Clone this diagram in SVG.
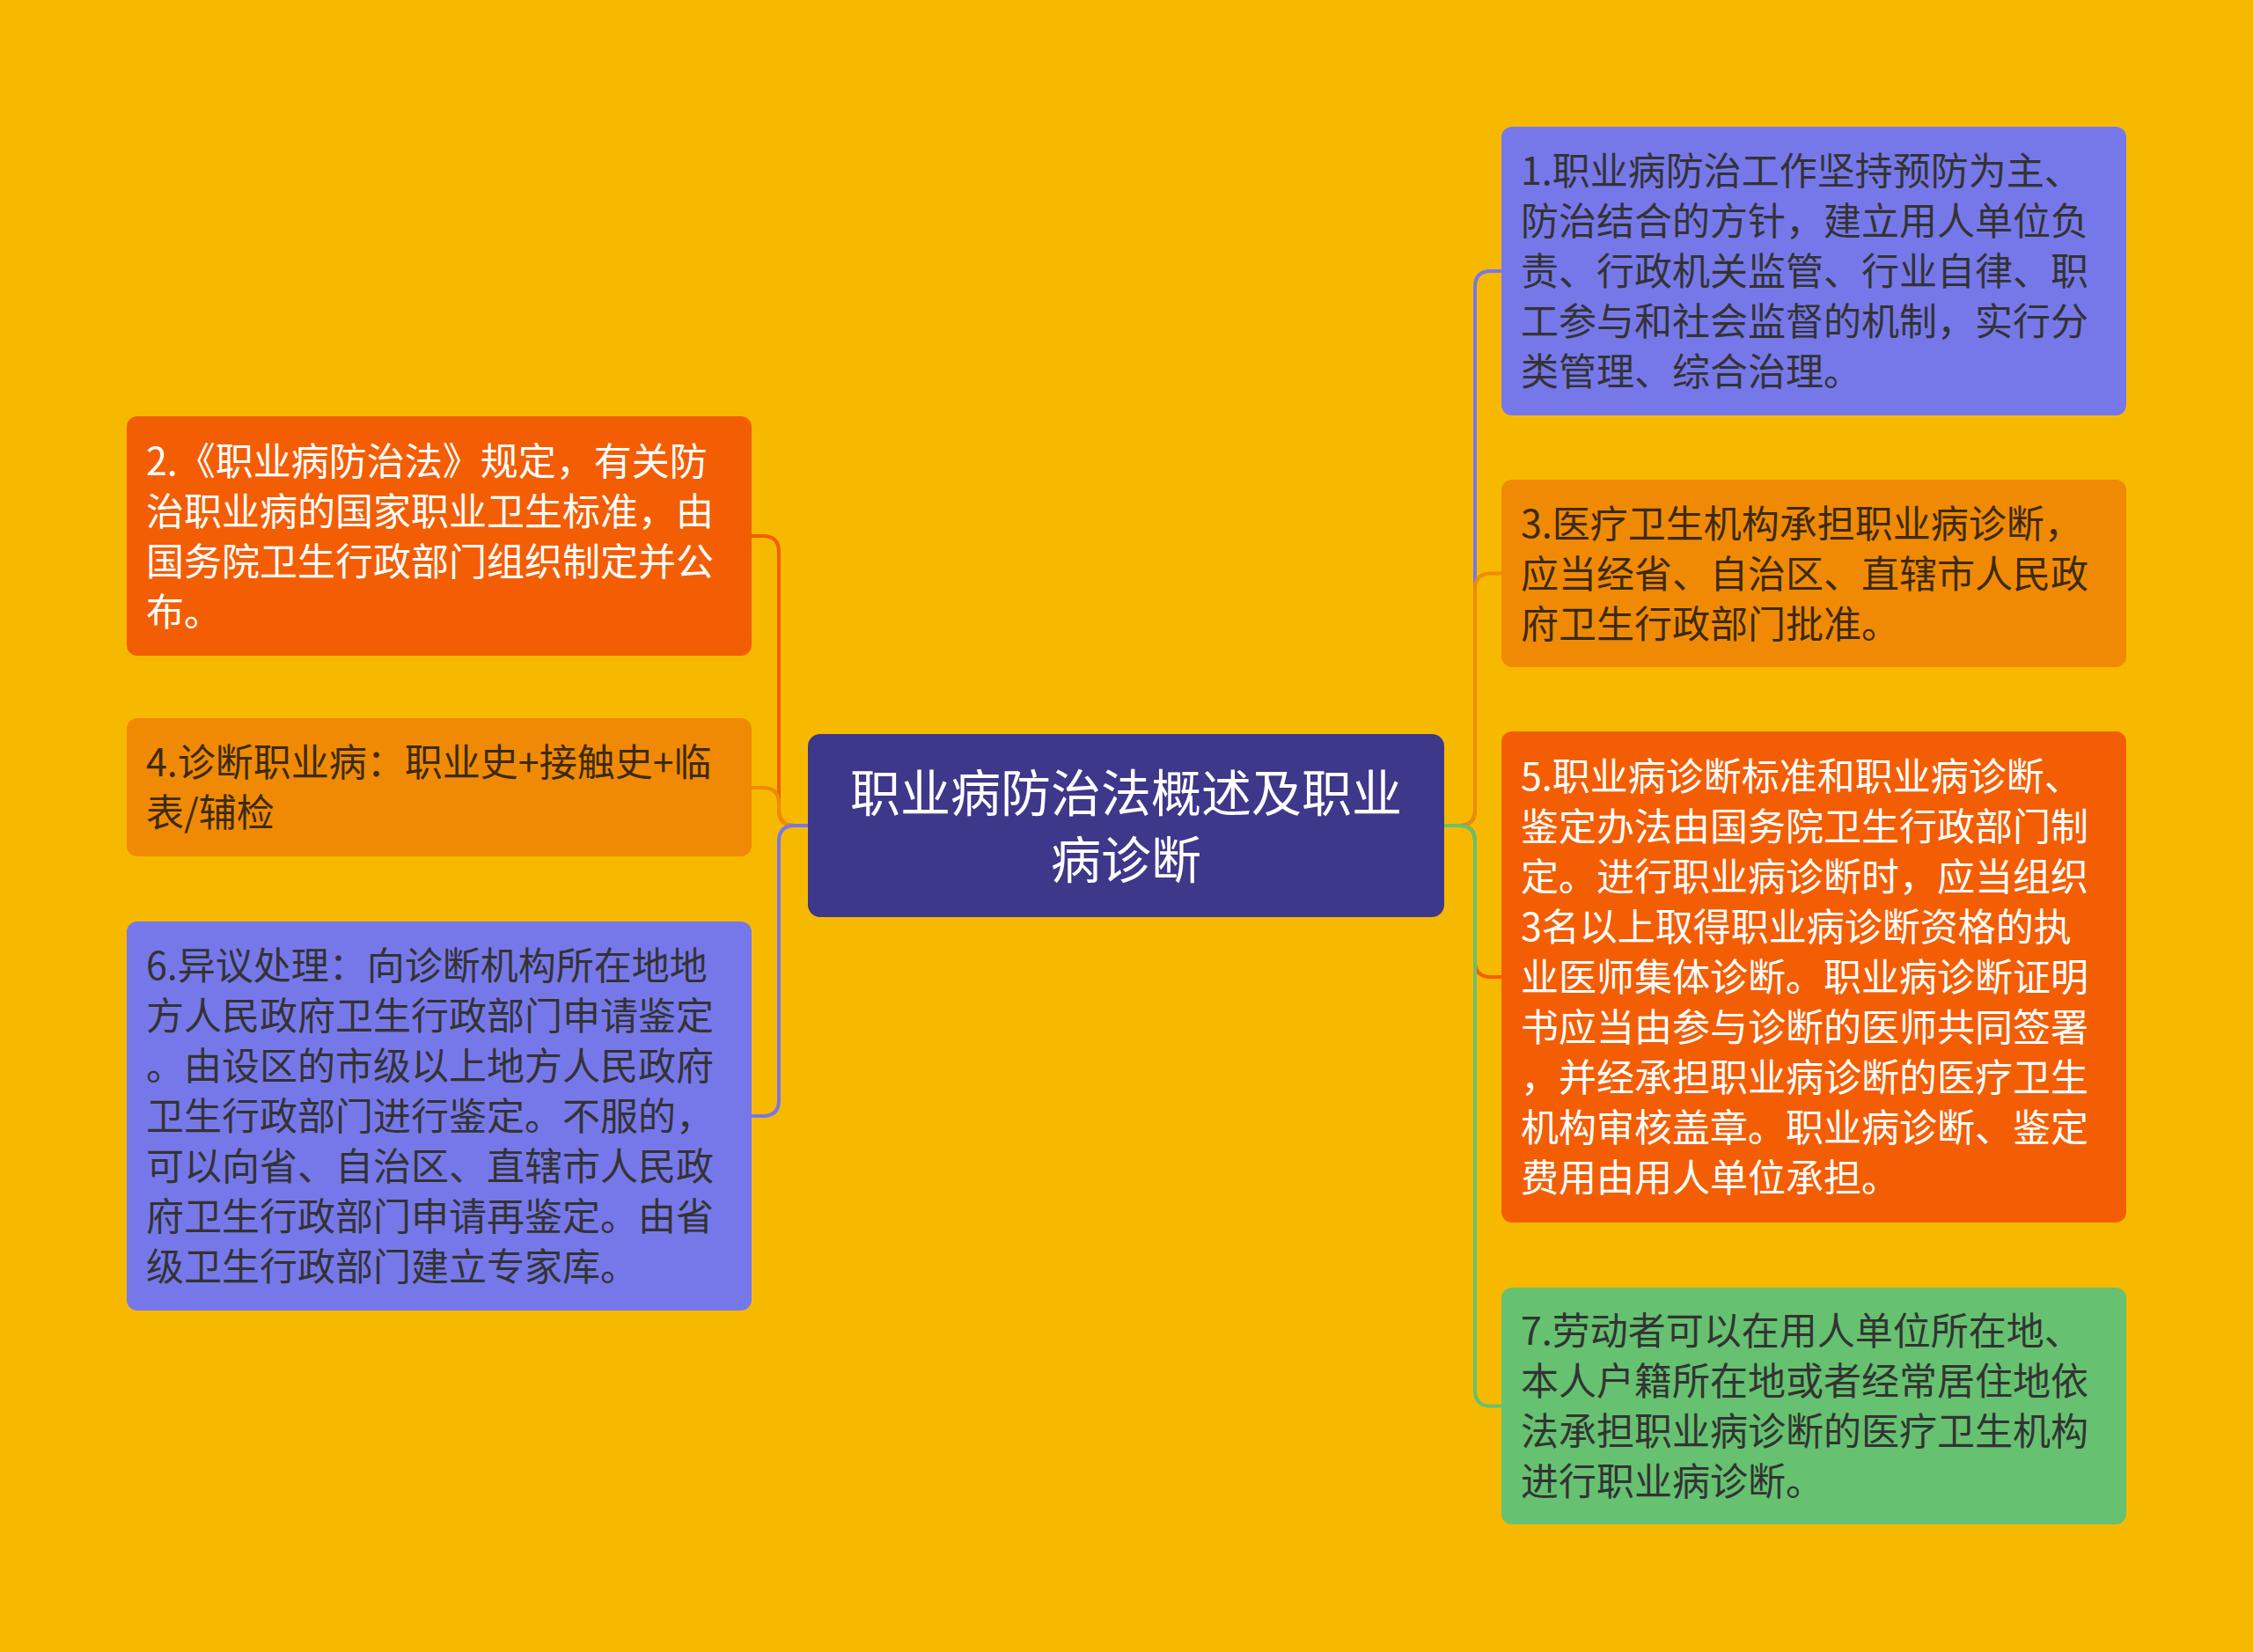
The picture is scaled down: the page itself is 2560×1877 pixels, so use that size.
<svg xmlns="http://www.w3.org/2000/svg" width="2560" height="1877" viewBox="0 0 2560 1877">
<style>
.t{font-family:"Noto Sans CJK SC","Noto Sans",sans-serif;font-size:43px}
.w{fill:#ffffff}
.d{fill:#333333}
.b{fill:#3d2a10}
.c{font-family:"Noto Sans CJK SC","Noto Sans",sans-serif;font-size:57px;fill:#ffffff;text-anchor:middle}
.ln{fill:none;stroke-width:4;stroke-linecap:round;stroke-linejoin:round}
</style>
<rect x="0" y="0" width="2560" height="1877" fill="#F7B900"/>
<g id="connectors">
<path class="ln" stroke="#F35E05" d="M918 938 H903 Q885 938 885 920 V627 Q885 609 867 609 H854"/>
<path class="ln" stroke="#F08A04" d="M918 938 H903 Q885 938 885 920 V913 Q885 895 867 895 H854"/>
<path class="ln" stroke="#7678EA" d="M918 938 H903 Q885 938 885 956 V1250 Q885 1268 867 1268 H854"/>
<path class="ln" stroke="#7678EA" d="M1641 938 H1658 Q1676 938 1676 920 V326 Q1676 308 1694 308 H1706"/>
<path class="ln" stroke="#F08A04" d="M1641 938 H1658 Q1676 938 1676 920 V669.5 Q1676 651.5 1694 651.5 H1706"/>
<path class="ln" stroke="#F35E05" d="M1641 938 H1658 Q1676 938 1676 956 V1092 Q1676 1110 1694 1110 H1706"/>
<path class="ln" stroke="#66C170" d="M1641 938 H1658 Q1676 938 1676 956 V1579.5 Q1676 1597.5 1694 1597.5 H1706"/>
</g>
<g id="center">
<rect x="918" y="834" width="723" height="208" rx="14" fill="#3D3889"/>
<text class="c"><tspan x="1279.5" y="922">职业病防治法概述及职业</tspan><tspan x="1279.5" y="998">病诊断</tspan></text>
</g>
<g id="n2">
<rect x="144" y="473" width="710" height="272" rx="12" fill="#F35E05"/>
<text class="t w"><tspan x="166" y="539.5">2.《职业病防治法》规定，有关防</tspan><tspan x="166" y="596.5">治职业病的国家职业卫生标准，由</tspan><tspan x="166" y="653.5">国务院卫生行政部门组织制定并公</tspan><tspan x="166" y="710.5">布。</tspan></text>
</g>
<g id="n4">
<rect x="144" y="816" width="710" height="157" rx="12" fill="#F08A04"/>
<text class="t b"><tspan x="166" y="882">4.诊断职业病：职业史+接触史+临</tspan><tspan x="166" y="939">表/辅检</tspan></text>
</g>
<g id="n6">
<rect x="144" y="1047" width="710" height="442" rx="12" fill="#7678EA"/>
<text class="t d"><tspan x="166" y="1113">6.异议处理：向诊断机构所在地地</tspan><tspan x="166" y="1170">方人民政府卫生行政部门申请鉴定</tspan><tspan x="166" y="1227">。由设区的市级以上地方人民政府</tspan><tspan x="166" y="1284">卫生行政部门进行鉴定。不服的，</tspan><tspan x="166" y="1341">可以向省、自治区、直辖市人民政</tspan><tspan x="166" y="1398">府卫生行政部门申请再鉴定。由省</tspan><tspan x="166" y="1455">级卫生行政部门建立专家库。</tspan></text>
</g>
<g id="n1">
<rect x="1706" y="144" width="710" height="328" rx="12" fill="#7678EA"/>
<text class="t d"><tspan x="1728" y="210">1.职业病防治工作坚持预防为主、</tspan><tspan x="1728" y="267">防治结合的方针，建立用人单位负</tspan><tspan x="1728" y="324">责、行政机关监管、行业自律、职</tspan><tspan x="1728" y="381">工参与和社会监督的机制，实行分</tspan><tspan x="1728" y="438">类管理、综合治理。</tspan></text>
</g>
<g id="n3">
<rect x="1706" y="545" width="710" height="213" rx="12" fill="#F08A04"/>
<text class="t b"><tspan x="1728" y="610.5">3.医疗卫生机构承担职业病诊断，</tspan><tspan x="1728" y="667.5">应当经省、自治区、直辖市人民政</tspan><tspan x="1728" y="724.5">府卫生行政部门批准。</tspan></text>
</g>
<g id="n5">
<rect x="1706" y="831" width="710" height="558" rx="12" fill="#F35E05"/>
<text class="t w"><tspan x="1728" y="898">5.职业病诊断标准和职业病诊断、</tspan><tspan x="1728" y="955">鉴定办法由国务院卫生行政部门制</tspan><tspan x="1728" y="1012">定。进行职业病诊断时，应当组织</tspan><tspan x="1728" y="1069">3名以上取得职业病诊断资格的执</tspan><tspan x="1728" y="1126">业医师集体诊断。职业病诊断证明</tspan><tspan x="1728" y="1183">书应当由参与诊断的医师共同签署</tspan><tspan x="1728" y="1240">，并经承担职业病诊断的医疗卫生</tspan><tspan x="1728" y="1297">机构审核盖章。职业病诊断、鉴定</tspan><tspan x="1728" y="1354">费用由用人单位承担。</tspan></text>
</g>
<g id="n7">
<rect x="1706" y="1463" width="710" height="269" rx="12" fill="#66C170"/>
<text class="t d"><tspan x="1728" y="1528">7.劳动者可以在用人单位所在地、</tspan><tspan x="1728" y="1585">本人户籍所在地或者经常居住地依</tspan><tspan x="1728" y="1642">法承担职业病诊断的医疗卫生机构</tspan><tspan x="1728" y="1699">进行职业病诊断。</tspan></text>
</g>
</svg>
